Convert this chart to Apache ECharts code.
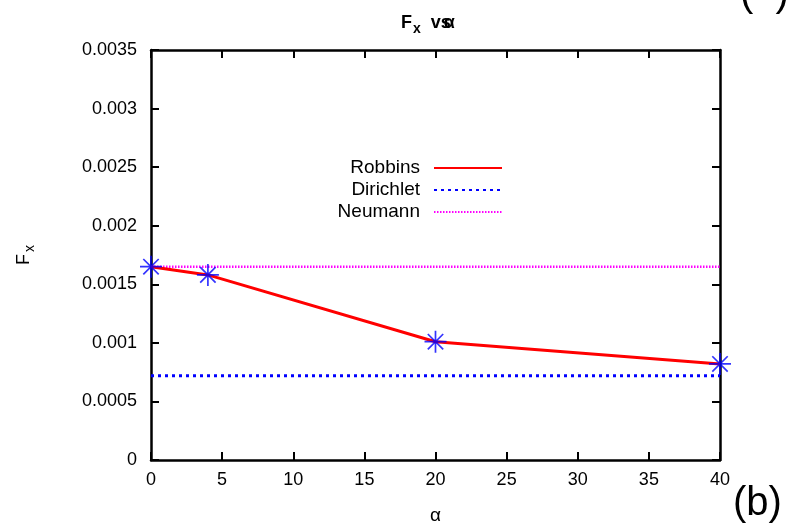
<!DOCTYPE html>
<html>
<head>
<meta charset="utf-8">
<script src="https://cdn.jsdelivr.net/npm/echarts@6/dist/echarts.min.js"></script>
<style>
  html, body { margin: 0; padding: 0; background: #fff; }
  #chart { width: 788px; height: 530px; }
</style>
</head>
<body>
<div id="chart"></div>
<script>
// data
var alphaValues = [0, 4, 20, 40];
var robbinsValues = [0.00165, 0.00158, 0.00101, 0.00082];
var dirichletValue = 0.00072;
var neumannValue = 0.00165;
var xRange = [0, 40];
var yRange = [0, 0.0035];
var seriesNames = ['Robbins', 'Dirichlet', 'Neumann'];

var FONT = '"Liberation Sans", Arial, sans-serif';

function pairs(xs, ys) {
  return xs.map(function (x, i) { return [x, ys[i]]; });
}
function flat(v) {
  return [[xRange[0], v], [xRange[1], v]];
}

var chart = echarts.init(document.getElementById('chart'));

// axis styles shared by the 4 sides (gnuplot style box with inward ticks)
function xAx(pos, labels) {
  return {
    type: 'value', position: pos, min: xRange[0], max: xRange[1], interval: 5,
    axisLine: { show: true, onZero: false, lineStyle: { color: '#000', width: 2.5 } },
    axisTick: { show: true, inside: true, length: 8, lineStyle: { color: '#000', width: 2 } },
    axisLabel: { show: labels, color: '#000', fontSize: 18, fontFamily: FONT, margin: 11 },
    splitLine: { show: false },
    name: labels ? 'α' : '', nameLocation: 'middle', nameGap: 46,
    nameTextStyle: { color: '#000', fontSize: 19, fontFamily: FONT }
  };
}
function yAx(pos, labels) {
  return {
    type: 'value', position: pos, min: yRange[0], max: yRange[1], interval: 0.0005,
    axisLine: { show: true, onZero: false, lineStyle: { color: '#000', width: 2.5 } },
    axisTick: { show: true, inside: true, length: 8, lineStyle: { color: '#000', width: 2 } },
    axisLabel: {
      show: labels, color: '#000', fontSize: 18, fontFamily: FONT, margin: 14,
      formatter: function (v) { return String(parseFloat(v.toPrecision(4))); }
    },
    splitLine: { show: false },
    name: labels ? '{f|F}{s|x}' : '', nameLocation: 'middle', nameGap: 114, nameRotate: 90,
    nameTextStyle: {
      color: '#000', fontFamily: FONT,
      rich: {
        f: { fontSize: 18, fontFamily: FONT, color: '#000' },
        s: { fontSize: 14, fontFamily: FONT, color: '#000', padding: [12, 0, 0, 2] }
      }
    }
  };
}

var option = {
  backgroundColor: '#fff',
  animation: false,
  title: {
    text: '{f|F}{s|x}{f|  vs}{a|α}',
    left: 396, top: 5,
    textStyle: {
      rich: {
        f: { fontSize: 18, fontFamily: FONT, color: '#000' },
        s: { fontSize: 14, fontFamily: FONT, color: '#000', padding: [12, 0, 0, 1] },
        a: { fontSize: 18, fontFamily: FONT, color: '#000', padding: [0, 0, 0, -7] }
      }
    }
  },
  legend: {
    data: seriesNames,
    orient: 'vertical', align: 'right',
    right: 285, top: 157,
    padding: 0, itemWidth: 68, itemHeight: 12, itemGap: 0,
    itemStyle: { opacity: 0 },
    textStyle: { color: '#000', fontSize: 19, fontFamily: FONT, lineHeight: 22, padding: [0, 9, 0, 0] }
  },
  grid: { left: 151, right: 68, top: 50, bottom: 68, containLabel: false },
  xAxis: [xAx('bottom', true), xAx('top', false)],
  yAxis: [yAx('left', true), yAx('right', false)],
  series: [
    {
      name: seriesNames[0], type: 'line', data: pairs(alphaValues, robbinsValues),
      symbol: 'none', z: 3,
      lineStyle: { color: '#ff0000', width: 3 }, itemStyle: { color: '#ff0000' }
    },
    {
      name: seriesNames[1], type: 'line', data: flat(dirichletValue),
      symbol: 'none', z: 2,
      lineStyle: { color: '#0000ff', width: 3, type: [3, 4] }, itemStyle: { color: '#0000ff' }
    },
    {
      name: seriesNames[2], type: 'line', data: flat(neumannValue),
      symbol: 'none', z: 2,
      lineStyle: { color: '#ff00ff', width: 2.5, type: [1.5, 1.5] }, itemStyle: { color: '#ff00ff' }
    },
    {
      name: 'Robbins points', type: 'scatter', data: pairs(alphaValues, robbinsValues),
      symbol: 'path://M-10,0L10,0M0,-10L0,10M-7,-7L7,7M7,-7L-7,7',
      symbolSize: 22, clip: false, z: 5,
      itemStyle: { color: 'rgba(0,0,0,0)', borderColor: '#0000ff', borderWidth: 1.7 }
    }
  ],
  graphic: [
    { type: 'text', left: 733, top: 484, style: { text: '(b)', fontSize: 40, fontFamily: FONT, fill: '#000' } },
    { type: 'text', left: 740, top: -25, style: { text: '(  )', fontSize: 40, fontFamily: FONT, fill: '#000' } }
  ]
};

chart.setOption(option);
</script>
</body>
</html>
